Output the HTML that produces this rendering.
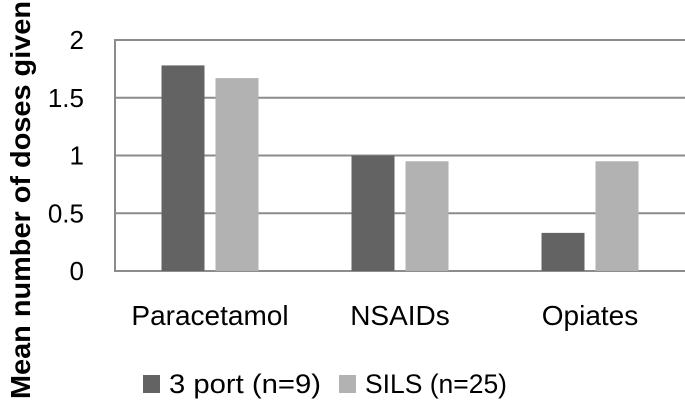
<!DOCTYPE html>
<html><head><meta charset="utf-8"><style>
html,body{margin:0;padding:0;background:#fff;width:685px;height:400px;overflow:hidden}
svg text{font-family:"Liberation Sans",sans-serif;fill:#000}
</style></head><body>
<svg id="chart" width="685" height="400" xmlns="http://www.w3.org/2000/svg">
<g id="grid"></g><g id="bars"></g><g id="labels"></g>
<text transform="translate(30,200) rotate(-90)" text-anchor="middle" font-size="28" font-weight="bold" textLength="398" lengthAdjust="spacingAndGlyphs">Mean number of doses given</text>
<g>
<rect x="143" y="375" width="17" height="18" fill="#636363"/>
<text x="169" y="393" font-size="27" textLength="152" lengthAdjust="spacingAndGlyphs">3 port (n=9)</text>
<rect x="339" y="375" width="17" height="18" fill="#b2b2b2"/>
<text x="365" y="393" font-size="27" textLength="142" lengthAdjust="spacingAndGlyphs">SILS (n=25)</text>
</g>
</svg>
<script>
const categories = ["Paracetamol","NSAIDs","Opiates"];
const port3 = [1.78, 1.0, 0.33];
const sils = [1.67, 0.95, 0.95];
const yTicks = [0, 0.5, 1, 1.5, 2];
const yTickLabels = ["0","0.5","1","1.5","2"];

const NS="http://www.w3.org/2000/svg";
const x0=115, x1=685, yTop=40, yBot=271;
const bandW=(x1-x0)/categories.length;
const y=v=>yBot-(v/2)*(yBot-yTop);
const bx=i=>x0+bandW*(i+0.5);
function mk(tag,attrs,parent){const e=document.createElementNS(NS,tag);for(const k in attrs)e.setAttribute(k,attrs[k]);document.getElementById(parent).appendChild(e);return e;}
yTicks.forEach((t,i)=>{
  const l=mk('line',{x1:x0,x2:x1,y1:y(t),y2:y(t),stroke:'#8c8c8c','stroke-width':2},'grid');
  
  
  const tx=mk('text',{x:84,y:y(t)+9,'text-anchor':'end','font-size':26},'labels');
  tx.textContent=yTickLabels[i];
  
  
});
const ax=mk('line',{x1:x0,x2:x0,y1:yTop-1,y2:yBot+1,stroke:'#8c8c8c','stroke-width':2},'grid');


const bw=43, gap=11;
categories.forEach((c,i)=>{
  const cx=bx(i);
  const r1=mk('rect',{x:cx-gap/2-bw,y:y(port3[i]),width:bw,height:yBot-y(port3[i]),fill:'#636363'},'bars');
  
  
  const r2=mk('rect',{x:cx+gap/2,y:y(sils[i]),width:bw,height:yBot-y(sils[i]),fill:'#b2b2b2'},'bars');
  
  
  const t=mk('text',{x:cx,y:325,'text-anchor':'middle','font-size':28},'labels');
  t.textContent=c;
  
  
});
</script>
</body></html>
